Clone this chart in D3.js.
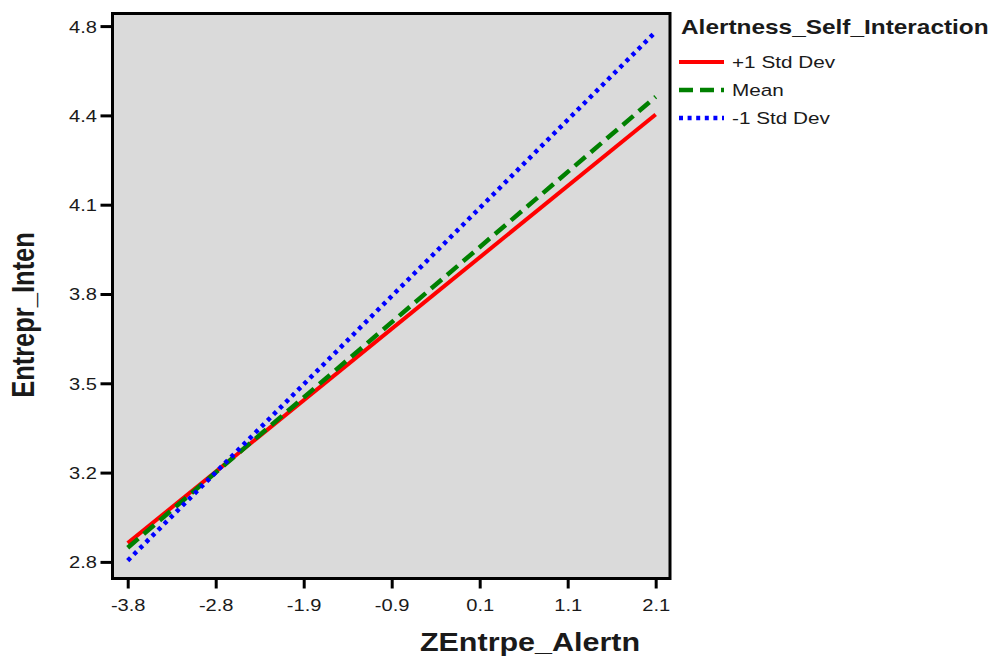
<!DOCTYPE html>
<html>
<head>
<meta charset="utf-8">
<script src="https://cdn.jsdelivr.net/npm/d3@7"></script>
<style>
  body { margin:0; background:white; }
  text { font-family: Arial, "Liberation Sans", sans-serif; fill:#1a1a1a; }
</style>
</head>
<body>
<svg></svg>
<script>
// data
var xEnds = [-3.8, 2.1];
var plusOne = [2.87, 4.47];
var meanLine = [2.853, 4.536];
var minusOne = [2.805, 4.779];
var seriesNames = ["+1 Std Dev", "Mean", "-1 Std Dev"];
var xTickLabels = ["-3.8", "-2.8", "-1.9", "-0.9", "0.1", "1.1", "2.1"];
var yTickLabels = ["2.8", "3.2", "3.5", "3.8", "4.1", "4.4", "4.8"];

var screen = { width:994, height:657 };
var sx = 1.22; // text in the picture is stretched sideways

var svg = d3.select("svg")
  .attr("width", screen.width)
  .attr("height", screen.height);

var plotBox = { left:112.5, right:670, top:13.5, bottom:578.5 };

var xScale = d3.scaleLinear().domain([-3.97, 2.26]).range([plotBox.left, plotBox.right]);
var yScale = d3.scaleLinear().domain([2.738, 4.847]).range([plotBox.bottom, plotBox.top]);

var series = [
  { name:seriesNames[0], values:plusOne, color:"#ff0000", dash:null, width:4 },
  { name:seriesNames[1], values:meanLine, color:"#008000", dash:"14,7", width:4.5 },
  { name:seriesNames[2], values:minusOne, color:"#0000ff", dash:"4,4.6", width:4.5 }
];

// background
svg.append("rect")
  .attr("x", plotBox.left).attr("y", plotBox.top)
  .attr("width", plotBox.right - plotBox.left)
  .attr("height", plotBox.bottom - plotBox.top)
  .attr("fill", "#dadada");

// lines
var line = d3.line()
  .x(function(d,i){ return xScale(xEnds[i]); })
  .y(function(d){ return yScale(d); });

svg.append("g").classed("lines", true)
  .selectAll("path")
  .data(series)
  .enter()
  .append("path")
  .attr("d", function(d){ return line(d.values); })
  .attr("fill", "none")
  .attr("stroke", function(d){ return d.color; })
  .attr("stroke-width", function(d){ return d.width; })
  .attr("stroke-dasharray", function(d){ return d.dash; });

// axes: evenly spaced ticks, labels as printed
var xTicks = xTickLabels.map(function(l,i){ return xEnds[0] + i*(xEnds[1]-xEnds[0])/6; });
var yTicks = yTickLabels.map(function(l,i){ return 2.8 + i*2/6; });

var xAxis = d3.axisBottom(xScale)
  .tickValues(xTicks)
  .tickSize(10)
  .tickFormat(function(d,i){ return xTickLabels[i]; });

var gx = svg.append("g").classed("xAxis", true)
  .attr("transform", "translate(0," + plotBox.bottom + ")")
  .call(xAxis);

var yAxis = d3.axisLeft(yScale)
  .tickValues(yTicks)
  .tickSize(12)
  .tickFormat(function(d,i){ return yTickLabels[i]; });

var gy = svg.append("g").classed("yAxis", true)
  .attr("transform", "translate(" + plotBox.left + ",0)")
  .call(yAxis);

[gx, gy].forEach(function(g){
  g.select(".domain").remove();
  g.selectAll(".tick line").attr("stroke", "#000").attr("stroke-width", 3);
  g.selectAll(".tick text")
    .attr("font-size", 16.5)
    .attr("font-family", "Arial, 'Liberation Sans', sans-serif")
    .attr("fill", "#1a1a1a");
});

gx.selectAll(".tick text")
  .attr("y", 0).attr("dy", 0)
  .attr("transform", "translate(0,32.5) scale(" + sx + ",1)");

gy.selectAll(".tick text")
  .attr("x", 0).attr("dy", 0)
  .attr("transform", "translate(-15.5,6) scale(" + sx + ",1)");

// frame
svg.append("rect")
  .attr("x", plotBox.left).attr("y", plotBox.top)
  .attr("width", plotBox.right - plotBox.left)
  .attr("height", plotBox.bottom - plotBox.top)
  .attr("fill", "none")
  .attr("stroke", "#000")
  .attr("stroke-width", 3);

// axis titles
svg.append("text")
  .attr("transform", "translate(530,651) scale(" + sx + ",1)")
  .attr("text-anchor", "middle")
  .attr("font-size", 25)
  .attr("font-weight", "bold")
  .text("ZEntrpe_Alertn");

svg.append("text")
  .attr("transform", "translate(34,315) scale(" + sx + ",1) rotate(-90)")
  .attr("text-anchor", "middle")
  .attr("font-size", 25.5)
  .attr("font-weight", "bold")
  .text("Entrepr_Inten");

// legend
var legend = svg.append("g").classed("legend", true);

legend.append("text")
  .attr("transform", "translate(681,34) scale(" + sx + ",1)")
  .attr("font-size", 20)
  .attr("font-weight", "bold")
  .text("Alertness_Self_Interaction");

var legendLines = legend.selectAll("g.item")
  .data(series)
  .enter()
  .append("g")
  .classed("item", true)
  .attr("transform", function(d,i){ return "translate(0," + (62 + i*28) + ")"; });

legendLines.append("line")
  .attr("x1", 679).attr("x2", 724)
  .attr("y1", 0).attr("y2", 0)
  .attr("stroke", function(d){ return d.color; })
  .attr("stroke-width", function(d){ return d.width; })
  .attr("stroke-dasharray", function(d){ return d.dash; });

legendLines.append("text")
  .attr("transform", "translate(732,6) scale(" + sx + ",1)")
  .attr("font-size", 17)
  .text(function(d){ return d.name; });
</script>
</body>
</html>
